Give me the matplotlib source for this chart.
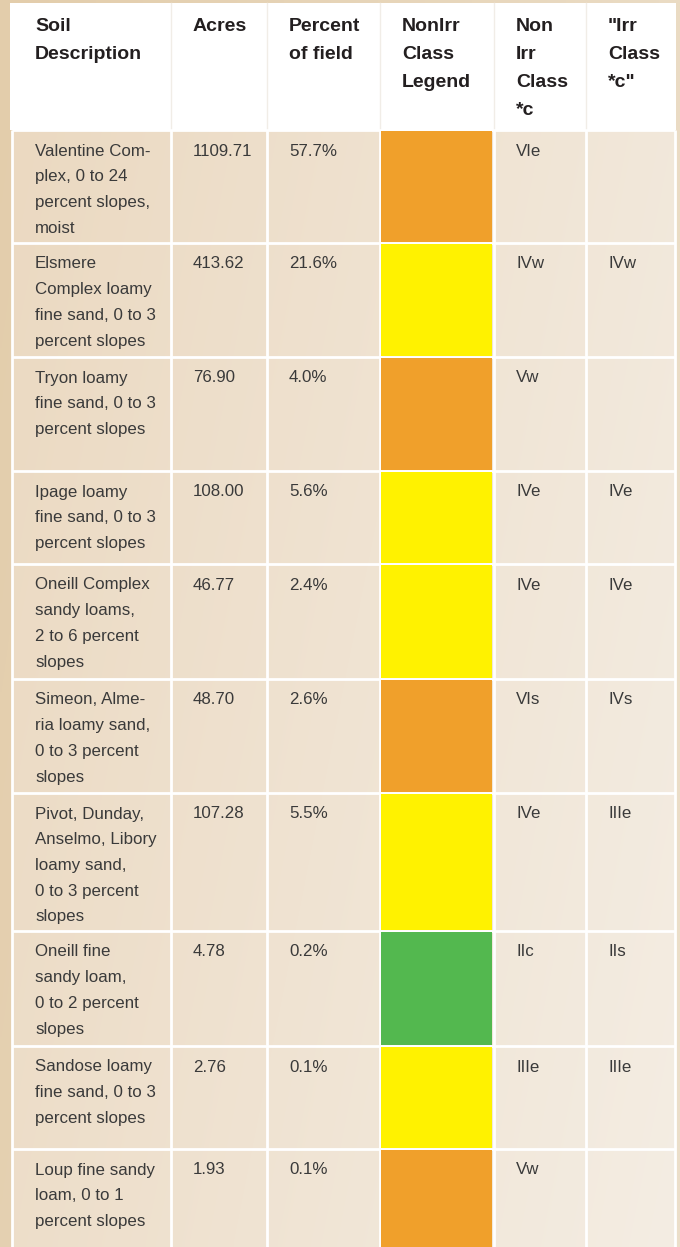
"""Soil map unit table: acres, share of field and capability classes."""
import matplotlib
matplotlib.use("Agg")
import matplotlib.pyplot as plt
import numpy as np
from matplotlib.colors import to_rgb
from matplotlib.patches import Rectangle

plt.rcParams["font.family"] = ["Liberation Sans", "DejaVu Sans"]

# ---- data -------------------------------------------------------------
HEADERS = ["Soil\nDescription", "Acres", "Percent\nof field",
           "NonIrr\nClass\nLegend", "Non\nIrr\nClass\n*c", "\"Irr\nClass\n*c\""]
SOILS = ["Valentine Com-\nplex, 0 to 24\npercent slopes,\nmoist",
         "Elsmere\nComplex loamy\nfine sand, 0 to 3\npercent slopes",
         "Tryon loamy\nfine sand, 0 to 3\npercent slopes",
         "Ipage loamy\nfine sand, 0 to 3\npercent slopes",
         "Oneill Complex\nsandy loams,\n2 to 6 percent\nslopes",
         "Simeon, Alme-\nria loamy sand,\n0 to 3 percent\nslopes",
         "Pivot, Dunday,\nAnselmo, Libory\nloamy sand,\n0 to 3 percent\nslopes",
         "Oneill fine\nsandy loam,\n0 to 2 percent\nslopes",
         "Sandose loamy\nfine sand, 0 to 3\npercent slopes",
         "Loup fine sandy\nloam, 0 to 1\npercent slopes"]
ACRES = [1109.71, 413.62, 76.90, 108.00, 46.77, 48.70, 107.28, 4.78, 2.76, 1.93]
PERCENT = [57.7, 21.6, 4.0, 5.6, 2.4, 2.6, 5.5, 0.2, 0.1, 0.1]
LEGEND = ["orange", "yellow", "orange", "yellow", "yellow",
          "orange", "yellow", "green", "yellow", "orange"]
NONIRR = ["VIe", "IVw", "Vw", "IVe", "IVe", "VIs", "IVe", "IIc", "IIIe", "Vw"]
IRR = ["", "IVw", "", "IVe", "IVe", "IVs", "IIIe", "IIs", "IIIe", ""]

# ---- layout (pixels) --------------------------------------------------
W, H = 680, 1247
COL_EDGES = [11.5, 171, 266.5, 379.5, 493.5, 585.5, 674.5]
ROW_EDGES = [130, 243, 357, 471, 564, 679, 793, 931, 1046, 1149, 1251]
TEXT_X = [35, 193, 289, 402, 516, 608]
SWATCH = {"orange": "#f0a02b", "yellow": "#fff200", "green": "#53b84f"}
GAP = 1.4
LINE_PT = 2.0


def gradient(c0, c1, wx=0.8, wy=0.2, n=200):
    gx, gy = np.meshgrid(np.linspace(0, 1, n), np.linspace(0, 1, n))
    t = np.clip(wx * gx + wy * gy, 0, 1)[..., None]
    a, b = np.array(to_rgb(c0)), np.array(to_rgb(c1))
    return a + (b - a) * t


def draw_lines(ax, x, y0, text, step, **kw):
    for i, line in enumerate(text.split("\n")):
        ax.text(x, y0 + i * step, line, va="baseline", ha="left", **kw)


def main():
    fig = plt.figure(figsize=(W / 100, H / 100), dpi=100)
    ax = fig.add_axes([0, 0, 1, 1])
    ax.set_xlim(0, W)
    ax.set_ylim(H, 0)
    ax.axis("off")

    # outer tan background
    ax.imshow(gradient("#e3cdab", "#ecdfca"), extent=(0, W, H, 0),
              aspect="auto", interpolation="bilinear", zorder=0)
    # table body: pale tan cells separated by white rules
    x0, x1 = COL_EDGES[0], COL_EDGES[-1]
    ax.imshow(gradient("#ebd9c1", "#f4ede3", wx=0.75, wy=0.25),
              extent=(x0, x1, H, ROW_EDGES[0]), aspect="auto",
              interpolation="bilinear", zorder=1)
    for xe in COL_EDGES:
        ax.plot([xe, xe], [ROW_EDGES[0], H], color="white",
                lw=LINE_PT, solid_capstyle="butt", zorder=2)
    for ye in ROW_EDGES[:-1]:
        ax.plot([x0, x1], [ye, ye], color="white",
                lw=LINE_PT, solid_capstyle="butt", zorder=2)
    ax.set_xlim(0, W)
    ax.set_ylim(H, 0)

    # header band
    ax.add_patch(Rectangle((10, 3), 665.5, ROW_EDGES[0] - 3,
                           facecolor="white", edgecolor="none", zorder=2))
    for xe in COL_EDGES[1:-1]:
        ax.plot([xe, xe], [3, ROW_EDGES[0] - 2], color="#f1ede7",
                lw=1.0, zorder=2.5)
    for x, h in zip(TEXT_X, HEADERS):
        draw_lines(ax, x, 31, h, 28, fontsize=14, fontweight="bold",
                   color="#231f20", zorder=3)

    # colour swatches and cell text
    for r in range(len(SOILS)):
        top, bot = ROW_EDGES[r] + GAP, ROW_EDGES[r + 1] - GAP
        left, right = COL_EDGES[3] + GAP, COL_EDGES[4] - GAP
        ax.add_patch(Rectangle((left, top), right - left, bot - top,
                               facecolor=SWATCH[LEGEND[r]],
                               edgecolor="none", zorder=2))

        base = ROW_EDGES[r] + 25.5
        kw = dict(fontsize=12.2, color="#3a3a3a", zorder=3)
        draw_lines(ax, TEXT_X[0], base, SOILS[r], 25.7, **kw)
        draw_lines(ax, TEXT_X[1], base, f"{ACRES[r]:.2f}", 25.7, **kw)
        draw_lines(ax, TEXT_X[2], base, f"{PERCENT[r]:.1f}%", 25.7, **kw)
        draw_lines(ax, TEXT_X[4], base, NONIRR[r], 25.7, **kw)
        if IRR[r]:
            draw_lines(ax, TEXT_X[5], base, IRR[r], 25.7, **kw)

    fig.savefig("out.png", dpi=100)
    return 0


if __name__ == "__main__":
    raise SystemExit(main())
